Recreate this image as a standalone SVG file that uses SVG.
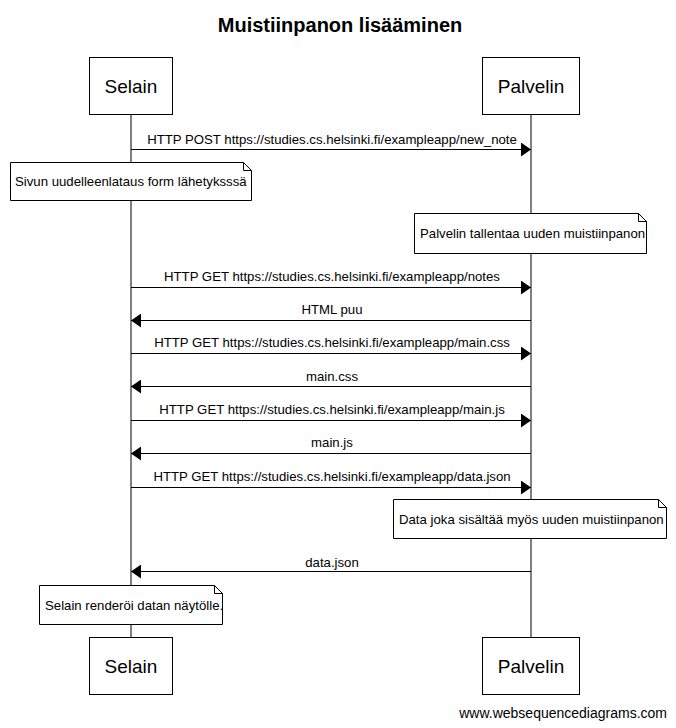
<svg xmlns="http://www.w3.org/2000/svg" width="676" height="728" viewBox="0 0 676 728">
<defs>
<marker id="ah" viewBox="0 0 10 14" refX="10" refY="7" markerWidth="10" markerHeight="14" markerUnits="userSpaceOnUse" orient="auto">
<path d="M0,0 L10,7 L0,14 Z" fill="#000"/>
</marker>
<style>
text{font-family:"Liberation Sans",Arial,sans-serif;fill:#000}
.actor rect{fill:#fff;stroke:#000;stroke-width:1}
.actor text{font-size:19px;text-anchor:middle}
.msg{font-size:13.2px;text-anchor:middle}
.note path{fill:#fff;stroke:#000;stroke-width:1}
.note text{font-size:13.2px}
.ll{stroke:#000;stroke-width:1}
.arr{stroke:#000;stroke-width:1;fill:none;marker-end:url(#ah)}
</style>
</defs>
<rect width="676" height="728" fill="#fff"/>
<text x="340" y="32" font-size="20" font-weight="bold" text-anchor="middle">Muistiinpanon lisääminen</text>
<g id="lifelines">
<line class="ll" x1="131" y1="114" x2="131" y2="637"/>
<line class="ll" x1="531" y1="114" x2="531" y2="637"/>
</g>
<g id="actor-selain-top" class="actor"><rect x="89.5" y="57.5" width="83" height="57"/><text x="131" y="93">Selain</text></g>
<g id="actor-palvelin-top" class="actor"><rect x="482.5" y="57.5" width="97" height="57"/><text x="531" y="93">Palvelin</text></g>
<g id="actor-selain-bottom" class="actor"><rect x="89.5" y="637.5" width="83" height="57"/><text x="131" y="673">Selain</text></g>
<g id="actor-palvelin-bottom" class="actor"><rect x="482.5" y="637.5" width="97" height="57"/><text x="531" y="673">Palvelin</text></g>
<g id="connectors">
<line class="arr" x1="131" y1="149.5" x2="531" y2="149.5"/>
<text class="msg" x="332" y="144">HTTP POST https://studies.cs.helsinki.fi/exampleapp/new_note</text>
<line class="arr" x1="131" y1="287.5" x2="531" y2="287.5"/>
<text class="msg" x="332" y="281">HTTP GET https://studies.cs.helsinki.fi/exampleapp/notes</text>
<line class="arr" x1="531" y1="320.5" x2="131" y2="320.5"/>
<text class="msg" x="332" y="314">HTML puu</text>
<line class="arr" x1="131" y1="353.5" x2="531" y2="353.5"/>
<text class="msg" x="332" y="347">HTTP GET https://studies.cs.helsinki.fi/exampleapp/main.css</text>
<line class="arr" x1="531" y1="386.5" x2="131" y2="386.5"/>
<text class="msg" x="332" y="381">main.css</text>
<line class="arr" x1="131" y1="420.5" x2="531" y2="420.5"/>
<text class="msg" x="332" y="414">HTTP GET https://studies.cs.helsinki.fi/exampleapp/main.js</text>
<line class="arr" x1="531" y1="453.5" x2="131" y2="453.5"/>
<text class="msg" x="332" y="447">main.js</text>
<line class="arr" x1="131" y1="487.5" x2="531" y2="487.5"/>
<text class="msg" x="332" y="481">HTTP GET https://studies.cs.helsinki.fi/exampleapp/data.json</text>
<line class="arr" x1="531" y1="571.5" x2="131" y2="571.5"/>
<text class="msg" x="332" y="567">data.json</text>
</g>
<g id="note-sivun" class="note"><path d="M10.5,162.5 H243.5 L251.5,170.5 V200.5 H10.5 Z M243.5,162.5 V170.5 H251.5"/><text x="15" y="186">Sivun uudelleenlataus form lähetyksssä</text></g>
<g id="note-palvelin" class="note"><path d="M414.5,213.5 H638.5 L646.5,221.5 V253.5 H414.5 Z M638.5,213.5 V221.5 H646.5"/><text x="420" y="238">Palvelin tallentaa uuden muistiinpanon</text></g>
<g id="note-data" class="note"><path d="M393.5,499.5 H658.5 L666.5,507.5 V538.5 H393.5 Z M658.5,499.5 V507.5 H666.5"/><text x="399" y="524">Data joka sisältää myös uuden muistiinpanon</text></g>
<g id="note-selain" class="note"><path d="M39.5,585.5 H214.5 L222.5,593.5 V624.5 H39.5 Z M214.5,585.5 V593.5 H222.5"/><text x="45" y="610">Selain renderöi datan näytölle.</text></g>
<text x="667" y="718" font-size="14" text-anchor="end">www.websequencediagrams.com</text>
</svg>
